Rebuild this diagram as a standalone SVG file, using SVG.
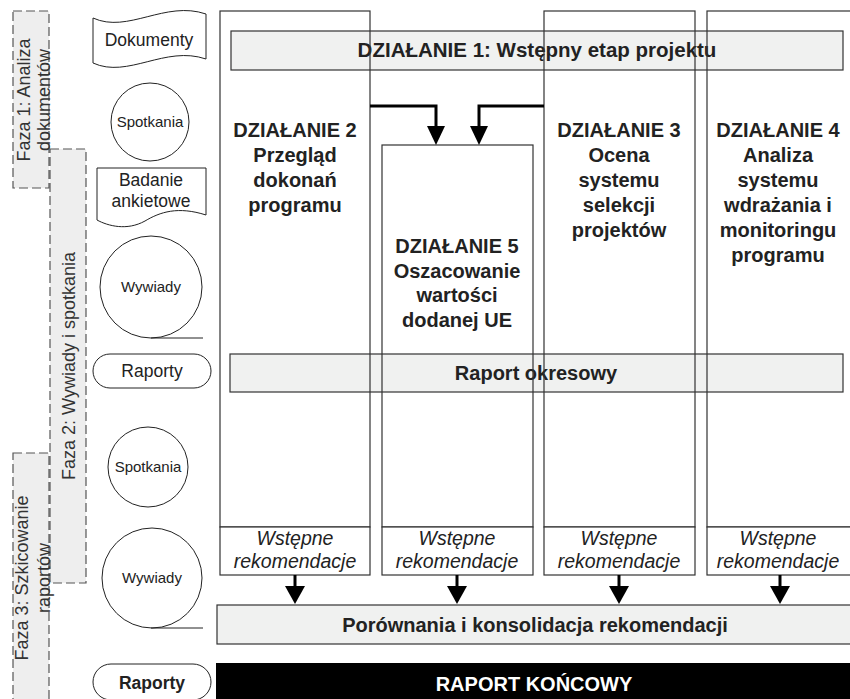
<svg xmlns="http://www.w3.org/2000/svg" width="850" height="699" viewBox="0 0 850 699">
  <defs>
    <style>
      .bg { fill: #ffffff; }
      .phase { fill: #eeeeee; stroke: #555555; stroke-width: 1.2; stroke-dasharray: 9 4; }
      .phase-t { font-family: "Liberation Sans", Arial, sans-serif; font-size: 18px; fill: #333333; text-anchor: middle; }
      .shape { fill: #ffffff; stroke: #222222; stroke-width: 1; }
      .lbl { font-family: "Liberation Sans", Arial, sans-serif; font-size: 17.5px; fill: #222222; text-anchor: middle; }
      .lbl-s { font-family: "Liberation Sans", Arial, sans-serif; font-size: 15px; fill: #222222; text-anchor: middle; }
      .lbl-b { font-family: "Liberation Sans", Arial, sans-serif; font-size: 17.5px; font-weight: bold; fill: #222222; text-anchor: middle; }
      .bar { fill: #f0f1f0; stroke: #333333; stroke-width: 1.2; }
      .col { fill: none; stroke: #333333; stroke-width: 1.2; }
      .rec { fill: #ffffff; stroke: #333333; stroke-width: 1.2; }
      .head { font-family: "Liberation Sans", Arial, sans-serif; font-size: 20px; font-weight: bold; fill: #222222; text-anchor: middle; }
      .head-l { font-size: 20.5px; }
      .rec-t { font-family: "Liberation Sans", Arial, sans-serif; font-size: 19.5px; font-style: italic; fill: #222222; text-anchor: middle; }
      .final { fill: #000000; }
      .final-t { font-family: "Liberation Sans", Arial, sans-serif; font-size: 20px; font-weight: bold; fill: #ffffff; text-anchor: middle; }
      .flow { fill: none; stroke: #000000; stroke-width: 3; }
      .head-tri { fill: #000000; }
    </style>
  </defs>

  <rect class="bg" x="0" y="0" width="850" height="699"/>

  <!-- Phase bands (dashed) -->
  <g id="phase1">
    <rect class="phase" x="13" y="11" width="36" height="177"/>
    <g transform="translate(0,100) rotate(-90)">
      <text class="phase-t" x="0" y="29.5">Faza 1: Analiza</text>
      <text class="phase-t" x="0" y="49.5">dokumentów</text>
    </g>
  </g>
  <g id="phase2">
    <rect class="phase" x="50" y="149" width="36" height="434"/>
    <text class="phase-t" transform="translate(75,366) rotate(-90)" x="0" y="0">Faza 2: Wywiady i spotkania</text>
  </g>
  <g id="phase3">
    <rect class="phase" x="13" y="453" width="36" height="260"/>
    <g transform="translate(0,578) rotate(-90)">
      <text class="phase-t" x="0" y="27.5">Faza 3: Szkicowanie</text>
      <text class="phase-t" x="0" y="49.5">raportów</text>
    </g>
  </g>

  <!-- Method symbols -->
  <g id="dokumenty">
    <path class="shape" d="M93,18 C128,34 165,0 206,14 L206,59 C165,45 128,79 93,63 Z"/>
    <text class="lbl" x="149" y="46">Dokumenty</text>
  </g>
  <g id="spotkania1">
    <circle class="shape" cx="150" cy="122" r="39"/>
    <text class="lbl-s" x="150" y="127">Spotkania</text>
  </g>
  <g id="badanie">
    <path class="shape" d="M97,168 H206 V215 C178,206 160,212 145,221 C127,231 108,226 97,220 Z"/>
    <text class="lbl" x="151" y="186">Badanie</text>
    <text class="lbl" x="151" y="207">ankietowe</text>
  </g>
  <g id="wywiady1">
    <circle class="shape" cx="151" cy="287" r="51"/>
    <line class="shape" x1="151" y1="338" x2="203" y2="338"/>
    <text class="lbl-s" x="151" y="292">Wywiady</text>
  </g>
  <g id="raporty1">
    <rect class="shape" x="93" y="354" width="118" height="34" rx="17"/>
    <text class="lbl" x="152" y="377">Raporty</text>
  </g>
  <g id="spotkania2">
    <circle class="shape" cx="148" cy="467" r="40"/>
    <text class="lbl-s" x="148" y="472">Spotkania</text>
  </g>
  <g id="wywiady2">
    <circle class="shape" cx="152" cy="578" r="50"/>
    <line class="shape" x1="151" y1="628" x2="203" y2="628"/>
    <text class="lbl-s" x="152" y="583">Wywiady</text>
  </g>
  <g id="raporty2">
    <rect class="shape" x="93" y="664" width="118" height="36" rx="18"/>
    <text class="lbl-b" x="152" y="689">Raporty</text>
  </g>

  <!-- Horizontal activity bars -->
  <g id="dzialanie1">
    <rect class="bar" x="231" y="31" width="612" height="39"/>
    <text class="head head-l" x="537" y="57">DZIAŁANIE 1: Wstępny etap projektu</text>
  </g>
  <g id="raport-okresowy">
    <rect class="bar" x="230" y="354" width="613" height="38"/>
    <text class="head" x="536" y="380">Raport okresowy</text>
  </g>

  <!-- Activity columns -->
  <g id="dzialanie2">
    <rect class="col" x="220" y="11" width="150" height="516"/>
    <text class="head" x="295" y="137">DZIAŁANIE 2</text>
    <text class="head" x="295" y="162">Przegląd</text>
    <text class="head" x="295" y="187">dokonań</text>
    <text class="head" x="295" y="212">programu</text>
  </g>
  <g id="dzialanie5">
    <rect class="col" x="382" y="145" width="151" height="382"/>
    <text class="head" x="457" y="253">DZIAŁANIE 5</text>
    <text class="head" x="457" y="278">Oszacowanie</text>
    <text class="head" x="457" y="302">wartości</text>
    <text class="head" x="457" y="327">dodanej UE</text>
  </g>
  <g id="dzialanie3">
    <rect class="col" x="544" y="11" width="151" height="516"/>
    <text class="head" x="619" y="137">DZIAŁANIE 3</text>
    <text class="head" x="619" y="162">Ocena</text>
    <text class="head" x="619" y="187">systemu</text>
    <text class="head" x="619" y="212">selekcji</text>
    <text class="head" x="619" y="237">projektów</text>
  </g>
  <g id="dzialanie4">
    <rect class="col" x="707" y="11" width="145" height="516"/>
    <text class="head" x="778" y="137">DZIAŁANIE 4</text>
    <text class="head" x="778" y="162">Analiza</text>
    <text class="head" x="778" y="187">systemu</text>
    <text class="head" x="778" y="212">wdrażania i</text>
    <text class="head" x="778" y="237">monitoringu</text>
    <text class="head" x="778" y="262">programu</text>
  </g>

  <!-- Preliminary recommendation boxes -->
  <g id="rek2">
    <rect class="rec" x="220" y="527" width="150" height="48"/>
    <text class="rec-t" x="295" y="545">Wstępne</text>
    <text class="rec-t" x="295" y="568">rekomendacje</text>
  </g>
  <g id="rek5">
    <rect class="rec" x="382" y="527" width="151" height="48"/>
    <text class="rec-t" x="457" y="545">Wstępne</text>
    <text class="rec-t" x="457" y="568">rekomendacje</text>
  </g>
  <g id="rek3">
    <rect class="rec" x="544" y="527" width="151" height="48"/>
    <text class="rec-t" x="619" y="545">Wstępne</text>
    <text class="rec-t" x="619" y="568">rekomendacje</text>
  </g>
  <g id="rek4">
    <rect class="rec" x="707" y="527" width="145" height="48"/>
    <text class="rec-t" x="778" y="545">Wstępne</text>
    <text class="rec-t" x="778" y="568">rekomendacje</text>
  </g>

  <g id="konsolidacja">
    <rect class="bar" x="217" y="605" width="635" height="39"/>
    <text class="head" x="535" y="632">Porównania i konsolidacja rekomendacji</text>
  </g>
  <g id="raport-koncowy">
    <rect class="final" x="216" y="663" width="636" height="40"/>
    <text class="final-t" x="534" y="691">RAPORT KOŃCOWY</text>
  </g>

  <!-- Connectors -->
  <g id="connectors">
    <polyline class="flow" points="370,106 436,106 436,127"/>
    <polygon class="head-tri" points="427,126 445,126 436,145"/>
    <polyline class="flow" points="544,106 479,106 479,127"/>
    <polygon class="head-tri" points="470,126 488,126 479,145"/>

    <line class="flow" x1="295" y1="575" x2="295" y2="588"/>
    <polygon class="head-tri" points="285,586 305,586 295,604"/>
    <line class="flow" x1="457" y1="575" x2="457" y2="588"/>
    <polygon class="head-tri" points="447,586 467,586 457,604"/>
    <line class="flow" x1="619" y1="575" x2="619" y2="588"/>
    <polygon class="head-tri" points="609,586 629,586 619,604"/>
    <line class="flow" x1="780" y1="575" x2="780" y2="588"/>
    <polygon class="head-tri" points="770,586 790,586 780,604"/>
  </g>
</svg>
